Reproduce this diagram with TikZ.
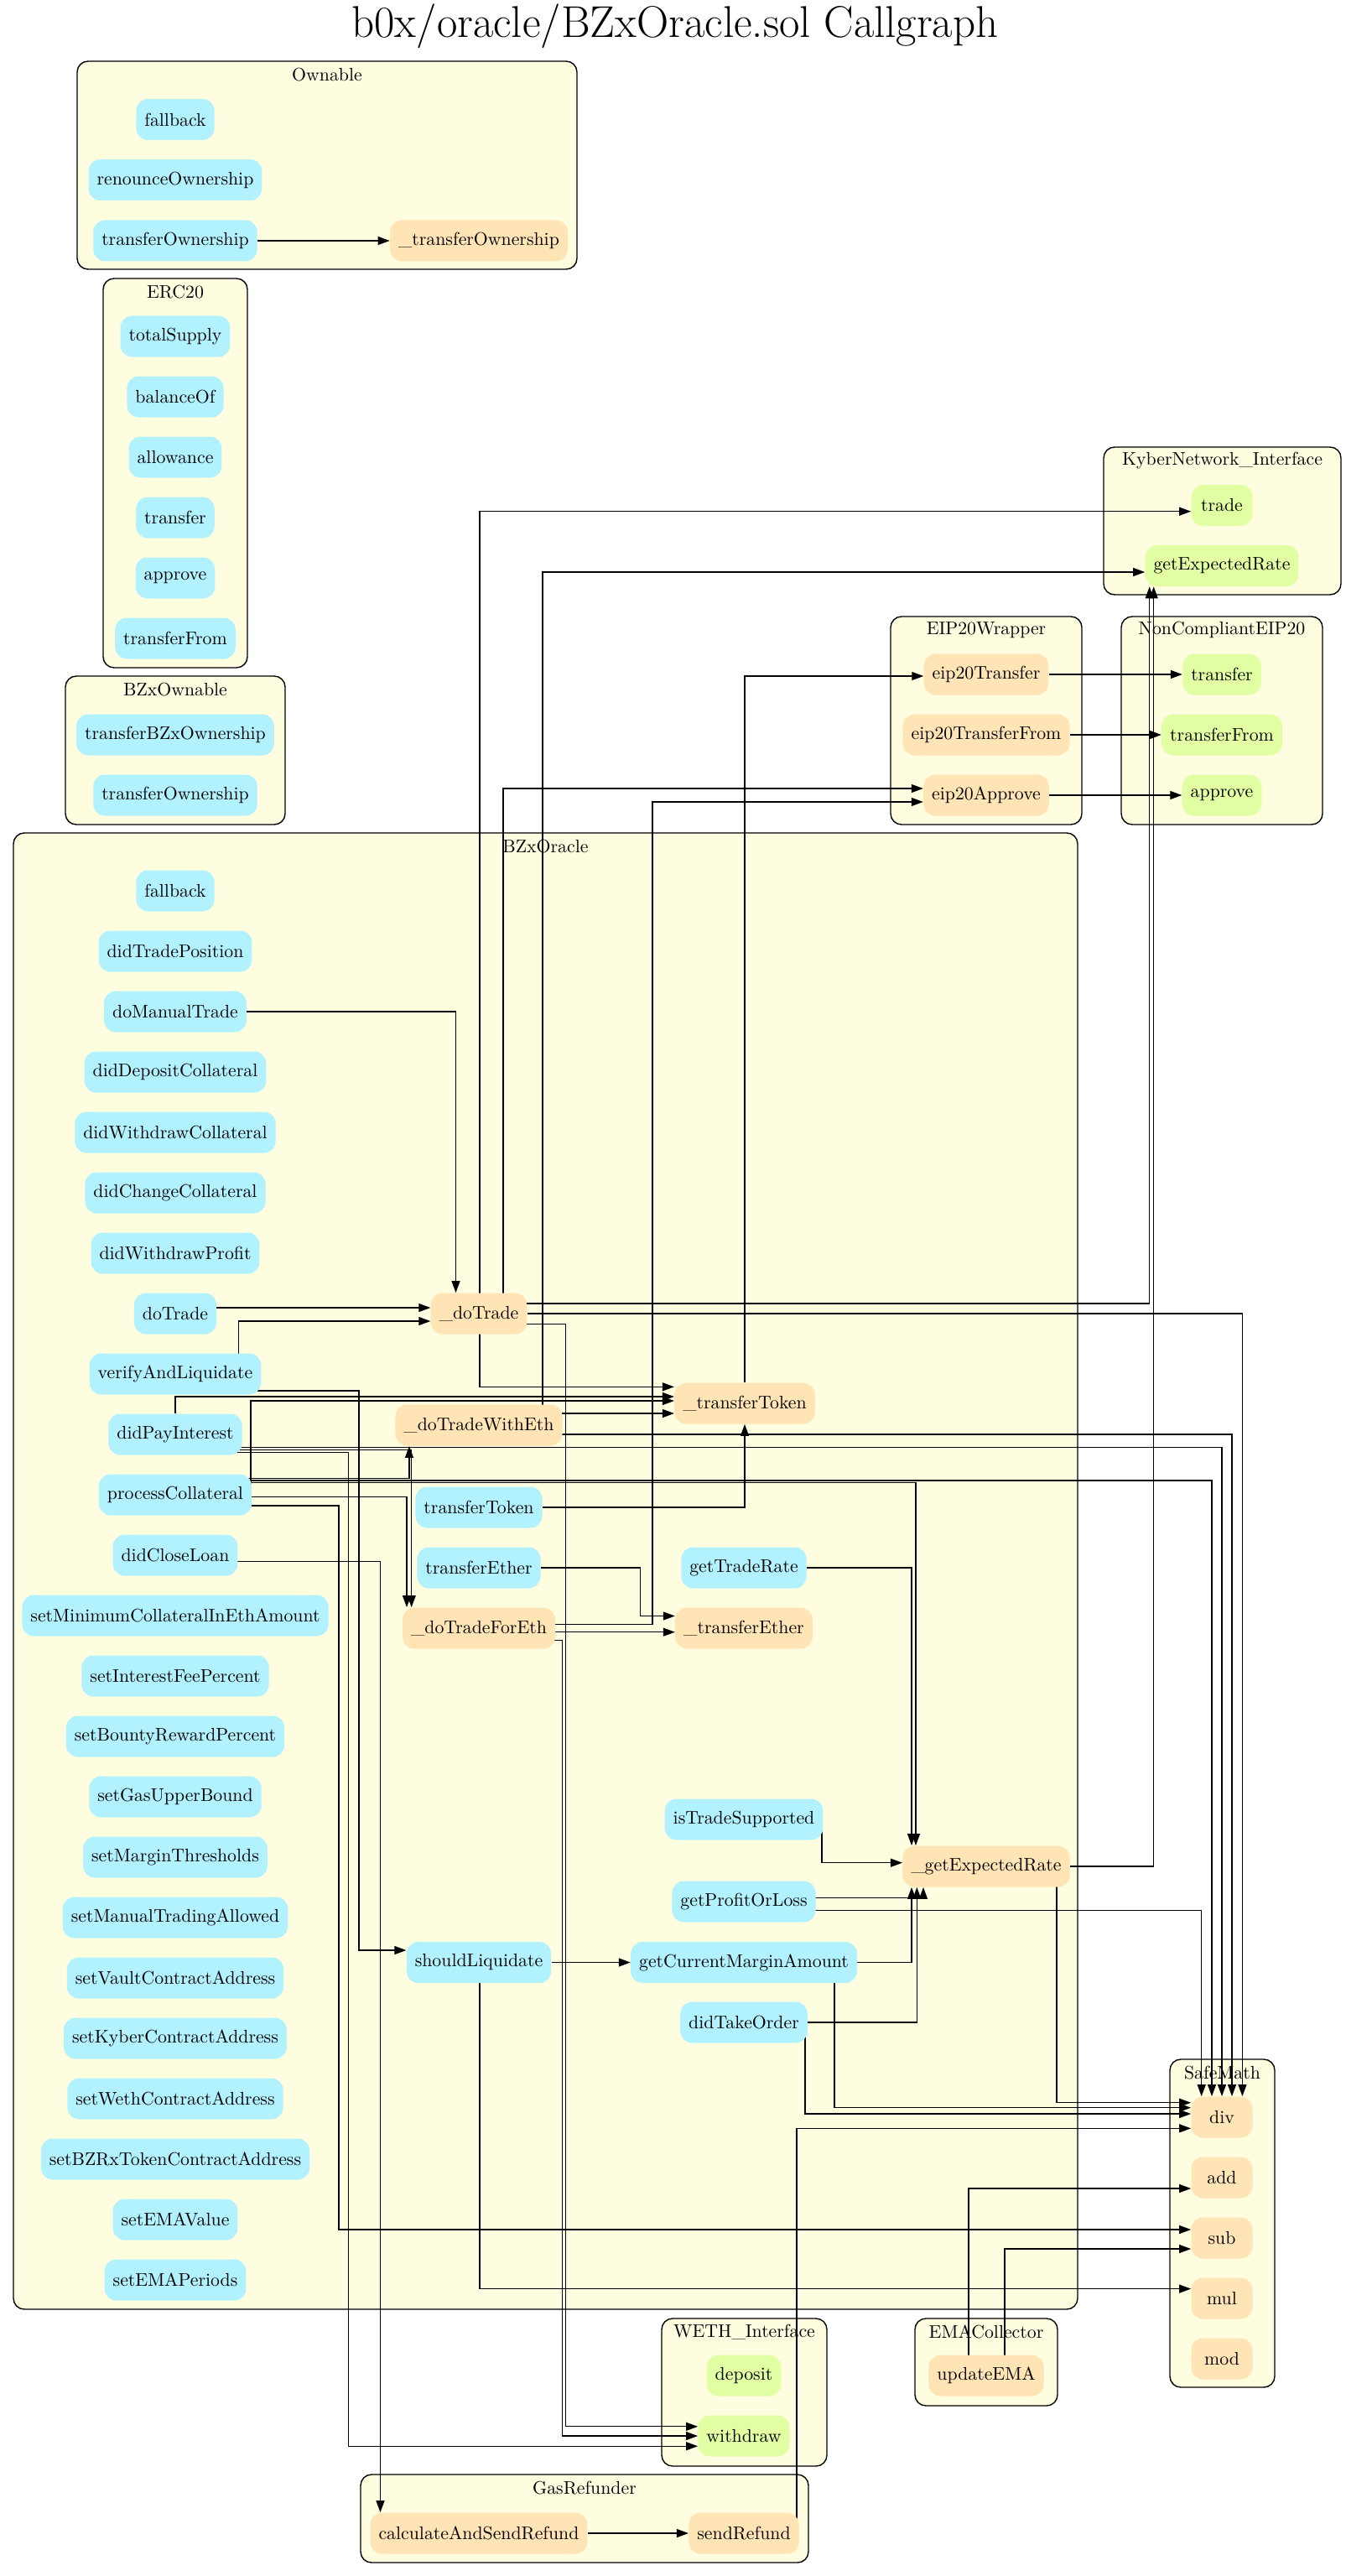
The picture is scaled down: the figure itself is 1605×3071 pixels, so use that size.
\documentclass[tikz,border=0pt]{standalone}
\usepackage{tikz}
\usetikzlibrary{arrows.meta, calc}
\definecolor{FnPublic}{RGB}{178,242,255}
\definecolor{FnInternal}{RGB}{255,228,181}
\definecolor{FnExternal}{RGB}{226,255,164}
\definecolor{ClusterFill}{RGB}{255,253,224}
\pgfdeclarelayer{background}
\pgfdeclarelayer{edges}
\pgfsetlayers{background,edges,main}

\begin{document}
\begin{tikzpicture}[x=0.5pt, y=-0.5pt,
    fn/.style={rounded corners=7pt, minimum height=24.5pt, minimum width=36.5pt, inner xsep=5pt, font=\fontsize{10.9}{13}\selectfont},
    pubfn/.style={fn, fill=FnPublic},
    intfn/.style={fn, fill=FnInternal},
    extfn/.style={fn, fill=FnExternal},
    cluster/.style={draw, line width=0.7pt, fill=ClusterFill, rounded corners=6.5pt},
    clusterlabel/.style={font=\fontsize{10.9}{13}\selectfont, inner sep=0pt},
    call/.style={-{Triangle[length=7pt,width=5pt]}, line width=0.6pt}]
        \useasboundingbox (0,0) rectangle (1605,3071);

        % Title
        \node[font=\fontsize{26.5}{32}\selectfont] (title) at (805,31) {b0x/oracle/BZxOracle.sol Callgraph};

        % Contracts
        \begin{pgfonlayer}{background}
            \fill[white] (0,0) rectangle (1605,3071);
            \foreach \xa/\ya/\xb/\yb/\name [count=\c] in {92/73/688/321/Ownable,
                123/332/295/796/ERC20,
                78/806/340/983/BZxOwnable,
                1316/533/1599/709/KyberNetwork\_Interface,
                1062/735/1290/983/EIP20Wrapper,
                1337/735/1577/983/NonCompliantEIP20,
                16/993/1285/2753/BZxOracle,
                1395/2455/1520/2846/SafeMath,
                789/2764/986/2940/WETH\_Interface,
                1091/2764/1261/2868/EMACollector,
                430/2950/964/3055/GasRefunder} {
                \draw[cluster] (\xa,\ya) rectangle (\xb,\yb);
                \node[clusterlabel] (contract\c) at ({(\xa+\xb)/2},{\ya+16}) {\name};
            }
        \end{pgfonlayer}

        % Ownable
        \node[pubfn] (ownFallback) at (209,142.5) {fallback};
        \node[pubfn] (renounceOwnership) at (209,214.5) {renounceOwnership};
        \node[pubfn] (ownTransferOwnership) at (209,287) {transferOwnership};
        \node[intfn] (iTransferOwnership) at (571,287) {\_transferOwnership};

        % ERC20
        \foreach \fn [count=\i from 0] in {totalSupply,balanceOf,allowance,transfer,approve,transferFrom}
            \node[pubfn] (erc\fn) at (209,{401+72*\i}) {\fn};

        % BZxOwnable
        \node[pubfn] (transferBZxOwnership) at (209,876) {transferBZxOwnership};
        \node[pubfn] (bzoTransferOwnership) at (209,948) {transferOwnership};

        % KyberNetwork_Interface
        \node[extfn] (kyberTrade) at (1457,602.5) {trade};
        \node[extfn] (kyberGetExpectedRate) at (1457,674.5) {getExpectedRate};

        % EIP20Wrapper
        \node[intfn] (eip20Transfer) at (1176,804) {eip20Transfer};
        \node[intfn] (eip20TransferFrom) at (1176,876) {eip20TransferFrom};
        \node[intfn] (eip20Approve) at (1176,948) {eip20Approve};

        % NonCompliantEIP20
        \node[extfn] (ncTransfer) at (1457,804) {transfer};
        \node[extfn] (ncTransferFrom) at (1457,876) {transferFrom};
        \node[extfn] (ncApprove) at (1457,948) {approve};

        % BZxOracle
        \foreach \fn [count=\i from 0] in {fallback,didTradePosition,doManualTrade,didDepositCollateral,%
            didWithdrawCollateral,didChangeCollateral,didWithdrawProfit,doTrade,verifyAndLiquidate,%
            didPayInterest,processCollateral,didCloseLoan,setMinimumCollateralInEthAmount,%
            setInterestFeePercent,setBountyRewardPercent,setGasUpperBound,setMarginThresholds,%
            setManualTradingAllowed,setVaultContractAddress,setKyberContractAddress,%
            setWethContractAddress,setBZRxTokenContractAddress,setEMAValue,setEMAPeriods}
            \node[pubfn] (\fn) at (209,{1062+72*\i}) {\fn};

        \node[intfn] (iDoTrade) at (571,1566) {\_doTrade};
        \node[intfn] (iTransferToken) at (888,1673) {\_transferToken};
        \node[intfn] (iDoTradeWithEth) at (571,1699) {\_doTradeWithEth};
        \node[pubfn] (transferToken) at (571,1797) {transferToken};
        \node[pubfn] (transferEther) at (571,1869) {transferEther};
        \node[pubfn] (getTradeRate) at (887,1869) {getTradeRate};
        \node[intfn] (iDoTradeForEth) at (571,1941) {\_doTradeForEth};
        \node[intfn] (iTransferEther) at (887,1941) {\_transferEther};
        \node[pubfn] (isTradeSupported) at (887,2169) {isTradeSupported};
        \node[intfn] (iGetExpectedRate) at (1176,2225) {\_getExpectedRate};
        \node[pubfn] (getProfitOrLoss) at (887,2267) {getProfitOrLoss};
        \node[pubfn] (shouldLiquidate) at (571,2339.5) {shouldLiquidate};
        \node[pubfn] (getCurrentMarginAmount) at (887,2339.5) {getCurrentMarginAmount};
        \node[pubfn] (didTakeOrder) at (887,2411) {didTakeOrder};

        % SafeMath
        \foreach \fn [count=\i from 0] in {div,add,sub,mul,mod}
            \node[intfn] (\fn) at (1457,{2524+72*\i}) {\fn};

        % WETH_Interface, EMACollector, GasRefunder
        \node[extfn] (deposit) at (887,2832) {deposit};
        \node[extfn] (withdraw) at (887,2904) {withdraw};
        \node[intfn] (updateEMA) at (1176,2832) {updateEMA};
        \node[intfn] (calculateAndSendRefund) at (571,3020) {calculateAndSendRefund};
        \node[intfn] (sendRefund) at (887,3020) {sendRefund};

        % Calls
        \begin{pgfonlayer}{edges}
            \draw[call] (ownTransferOwnership.east) -- (iTransferOwnership.west);
            \draw[call] (eip20Transfer.east) -- (ncTransfer.west);
            \draw[call] (eip20TransferFrom.east) -- (ncTransferFrom.west);
            \draw[call] (eip20Approve.east) -- (ncApprove.west);

            % into _doTrade
            \draw[call] (doManualTrade) -| ($(iDoTrade.north)+(-27.5,0)$);
            \draw[call] ($(doTrade)+(0,-7)$) -- ($(iDoTrade.west)+(0,-7)$);
            \draw[call] ($(verifyAndLiquidate)+(75.6,0)$) |- ($(iDoTrade.west)+(0,9)$);

            % from _doTrade
            \draw[call] ($(iDoTrade)+(1,0)$) |- ($(kyberTrade.west)+(0,7.2)$);
            \draw[call] ($(iDoTrade)+(29,0)$) |- ($(eip20Approve.west)+(0,-8)$);
            \draw[call] ($(iDoTrade)+(0,-12)$) -| ($(kyberGetExpectedRate.south)+(-86.3,0)$);
            \draw[call] (iDoTrade) -| ($(div.north)+(24.4,0)$);
            \draw[call] ($(iDoTrade)+(0,12.3)$) -| ($(withdraw)+(-212.7,-11.2)$) |- ($(withdraw.west)+(0,-11.2)$);
            \draw[call] ($(iDoTrade)+(1,0)$) |- ($(iTransferToken.west)+(0,-19.7)$);

            % from _doTradeWithEth and _doTradeForEth
            \draw[call] ($(iDoTradeWithEth)+(76,0)$) |- ($(kyberGetExpectedRate.west)+(0,7.5)$);
            \draw[call] ($(iDoTradeWithEth)+(0,-14)$) -- ($(iTransferToken.west)+(0,12)$);
            \draw[call] ($(iDoTradeWithEth)+(0,11)$) -| ($(div.north)+(12,0)$);
            \draw[call] ($(iDoTradeForEth)+(0,-4.3)$) -| ($(eip20Approve)+(-398,8)$) |- ($(eip20Approve.west)+(0,8)$);
            \draw[call] ($(iDoTradeForEth)+(0,4.7)$) -- ($(iTransferEther.west)+(0,4.7)$);
            \draw[call] ($(iDoTradeForEth)+(0,14.7)$) -| ($(withdraw)+(-216.3,0)$) |- (withdraw.west);

            % from _transferToken and _getExpectedRate
            \draw[call] (iTransferToken) |- ($(eip20Transfer.west)+(0,2)$);
            \draw[call] (iGetExpectedRate) -| ($(kyberGetExpectedRate.south)+(-81.3,0)$);
            \draw[call] ($(iGetExpectedRate)+(84,0)$) |- ($(div.west)+(0,-17.3)$);

            % verifyAndLiquidate, didPayInterest, processCollateral, didCloseLoan
            \draw[call] ($(verifyAndLiquidate)+(0,20)$) -| ($(shouldLiquidate)+(-143,-14.5)$) |- ($(shouldLiquidate.west)+(0,-14.5)$);
            \draw[call] (didPayInterest) |- ($(iTransferToken.west)+(0,-8)$);
            \draw[call] ($(didPayInterest)+(0,15.5)$) -| (div.north);
            \draw[call] ($(didPayInterest)+(0,18.7)$) -| ($(iDoTradeForEth.north)+(-80.3,0)$);
            \draw[call] ($(didPayInterest)+(0,21.7)$) -| ($(withdraw)+(-471.3,12.2)$) |- ($(withdraw.west)+(0,12.2)$);
            \draw[call] ($(processCollateral)+(90,0)$) |- ($(iTransferToken.west)+(0,-3)$);
            \draw[call] ($(processCollateral)+(0,-19.7)$) -| ($(iDoTradeWithEth.south)+(-83,0)$);
            \draw[call] ($(processCollateral)+(0,-17)$) -| ($(div.north)+(-12,0)$);
            \draw[call] ($(processCollateral)+(0,-14.3)$) -| ($(iGetExpectedRate.north)+(-84,0)$);
            \draw[call] ($(processCollateral)+(0,2.3)$) -| ($(iDoTradeForEth.north)+(-86,0)$);
            \draw[call] ($(processCollateral)+(0,13)$) -| ($(sub)+(-1053,-10)$) |- ($(sub.west)+(0,-10)$);
            \draw[call] ($(didCloseLoan)+(0,7.7)$) -| ($(calculateAndSendRefund.north)+(-117.5,0)$);

            % remaining public functions
            \draw[call] (transferToken) -| (iTransferToken.south);
            \draw[call] (transferEther) -| ($(iTransferEther)+(-123.4,-14.5)$) |- ($(iTransferEther.west)+(0,-14.5)$);
            \draw[call] (getTradeRate) -| ($(iGetExpectedRate.north)+(-89,0)$);
            \draw[call] ($(isTradeSupported)+(93,0)$) |- ($(iGetExpectedRate.west)+(0,-4.3)$);
            \draw[call] ($(getProfitOrLoss)+(0,-4.3)$) -| ($(iGetExpectedRate.south)+(-75,0)$);
            \draw[call] ($(getProfitOrLoss)+(0,10.7)$) -| ($(div.north)+(-24.3,0)$);
            \draw[call] (shouldLiquidate.east) -- (getCurrentMarginAmount.west);
            \draw[call] ($(shouldLiquidate)+(1,0)$) |- ($(mul.west)+(0,-11.4)$);
            \draw[call] (getCurrentMarginAmount) -| ($(iGetExpectedRate.south)+(-89,0)$);
            \draw[call] ($(getCurrentMarginAmount)+(108,0)$) |- ($(div.west)+(0,-11.3)$);
            \draw[call] (didTakeOrder) -| ($(iGetExpectedRate.south)+(-82.7,0)$);
            \draw[call] ($(didTakeOrder)+(73,0)$) |- ($(div.west)+(0,-4)$);
            \draw[call] (calculateAndSendRefund.east) -- (sendRefund.west);
            \draw[call] ($(sendRefund)+(63,0)$) |- ($(div.west)+(0,13.3)$);
            \draw[call] ($(updateEMA)+(-21,0)$) |- ($(add.west)+(0,13)$);
            \draw[call] ($(updateEMA)+(22,0)$) |- ($(sub.west)+(0,13)$);
        \end{pgfonlayer}
    \end{tikzpicture}
\end{document}
